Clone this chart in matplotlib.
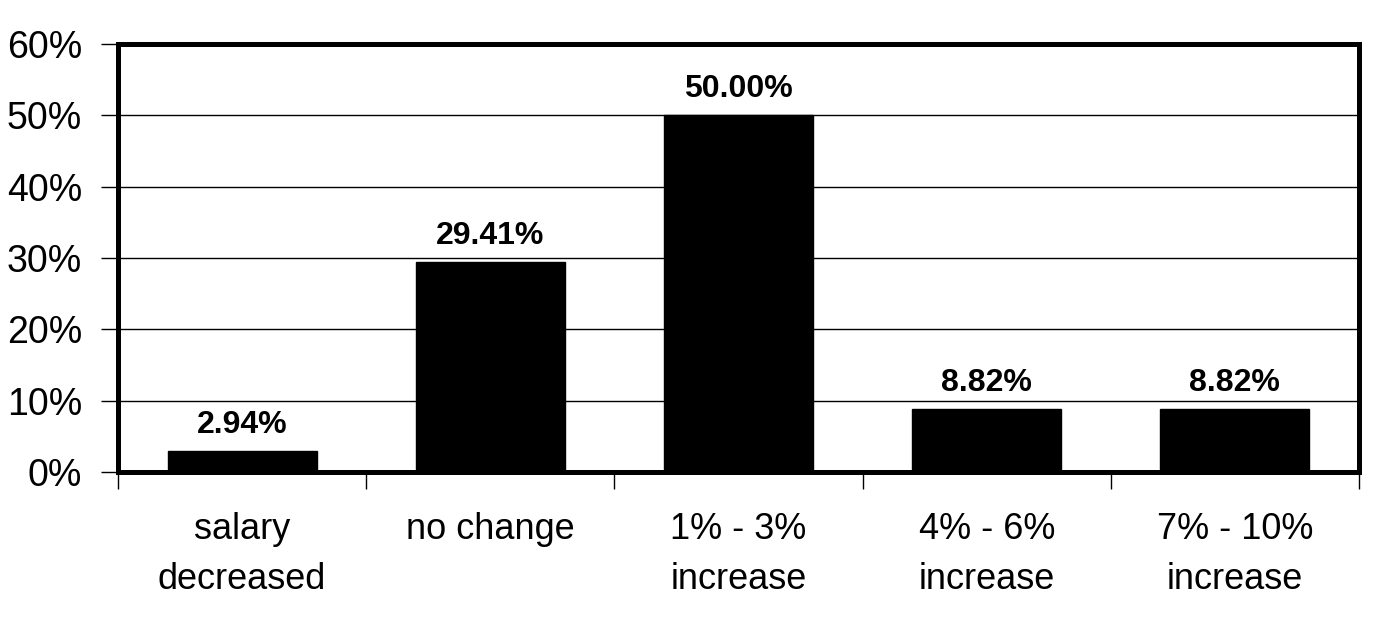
import matplotlib.pyplot as plt
from matplotlib.ticker import PercentFormatter

plt.rcParams['font.family'] = ['Liberation Sans', 'DejaVu Sans']

categories = ['salary\ndecreased', 'no change', '1% - 3%\nincrease', '4% - 6%\nincrease', '7% - 10%\nincrease']
shares = [2.94, 29.41, 50.00, 8.82, 8.82]
value_labels = ['2.94%', '29.41%', '50.00%', '8.82%', '8.82%']

fig = plt.figure(figsize=(13.75, 6.25), dpi=100)
ax = fig.add_axes([118 / 1375, 1 - 472 / 625, (1359 - 118) / 1375, (472 - 44) / 625])

x = range(len(categories))
ax.bar(x, shares, width=0.6, color='black', edgecolor='black', zorder=3)

for i, (v, lab) in enumerate(zip(shares, value_labels)):
    ax.annotate(lab, (i, v), xytext=(0, 8), textcoords='offset points',
                ha='center', va='bottom', fontsize=23, fontweight='bold')

ax.set_xlim(-0.5, len(categories) - 0.5)
ax.set_ylim(0, 60)
ax.set_yticks(range(0, 61, 10))
ax.yaxis.set_major_formatter(PercentFormatter(decimals=0))
ax.yaxis.grid(True, color='black', linewidth=1)
ax.set_axisbelow(True)

# category labels centered, tick marks at the boundaries
ax.set_xticks(list(x))
ax.set_xticklabels(categories, fontsize=26, linespacing=1.55)
ax.tick_params(axis='x', length=0, pad=29)
ax.set_xticks([i - 0.5 for i in range(len(categories) + 1)], minor=True)
ax.tick_params(axis='x', which='minor', length=12, width=1)
ax.tick_params(axis='y', length=12, width=1, labelsize=27, pad=14)

for s in ax.spines.values():
    s.set_linewidth(3.6)

fig.savefig('out.png', dpi=100)
